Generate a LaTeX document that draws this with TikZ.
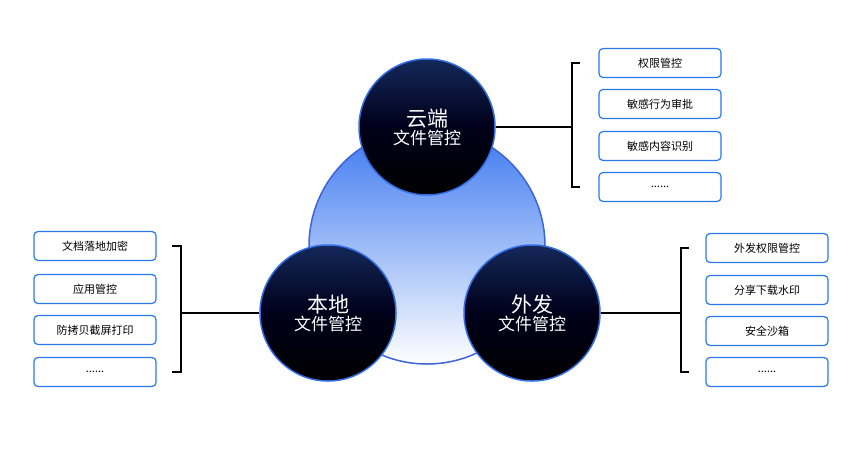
\documentclass[tikz,border=0pt]{standalone}
\usepackage{fontspec}
\setmainfont{Noto Sans CJK SC}
\newcommand{\mydots}{......}
\begin{document}
\begin{tikzpicture}[x=1pt,y=-1pt,
 box/.style={draw=bb,line width=1.2pt,rounded corners=4pt,minimum width=122pt,minimum height=29pt,fill=white,font=\fontsize{11}{13}\selectfont},
 dark/.style={circle,minimum size=136pt,draw={rgb,255:red,50;green,110;blue,230},line width=1.5pt,top color={rgb,255:red,20;green,40;blue,90},bottom color=black,middle color=black!90!blue,text=white,align=center,inner sep=0pt},
 br/.style={line width=1.2pt}]
\definecolor{bb}{RGB}{40,120,240}
\useasboundingbox (0,0) rectangle (861,453);
\node[circle,minimum size=236pt,draw={rgb,255:red,60;green,100;blue,220},line width=1.5pt,top color={rgb,255:red,60;green,120;blue,240},bottom color=white] (big) at (427,246) {};
\node[dark] (cloud) at (427,127) {{\fontsize{21}{23}\selectfont 云端}\\[1pt]{\fontsize{17}{19}\selectfont 文件管控}};
\node[dark] (local) at (328,313) {{\fontsize{21}{23}\selectfont 本地}\\[1pt]{\fontsize{17}{19}\selectfont 文件管控}};
\node[dark] (ext) at (532,313) {{\fontsize{21}{23}\selectfont 外发}\\[1pt]{\fontsize{17}{19}\selectfont 文件管控}};
% top right
\foreach \t/\y [count=\i] in {权限管控/63,敏感行为审批/104,敏感内容识别/146,\mydots/187}
  \node[box] (a\i) at (660,\y) {\t};
\coordinate (ja) at (572,127);
\draw[br] (cloud.east) -- (ja);
\draw[br] (580,63) -| (572,187) -- (580,187);
% left
\foreach \t/\y [count=\i] in {文档落地加密/246,应用管控/289,防拷贝截屏打印/330,\mydots/372}
  \node[box] (b\i) at (95,\y) {\t};
\coordinate (jb) at (181,313);
\draw[br] (local.west) -- (jb);
\draw[br] (172,246) -| (181,372) -- (172,372);
% bottom right
\foreach \t/\y [count=\i] in {外发权限管控/248,分享下载水印/290,安全沙箱/331,\mydots/372}
  \node[box] (c\i) at (767,\y) {\t};
\coordinate (jc) at (681,313);
\draw[br] (ext.east) -- (jc);
\draw[br] (689,248) -| (681,372) -- (689,372);
\end{tikzpicture}
\end{document}
